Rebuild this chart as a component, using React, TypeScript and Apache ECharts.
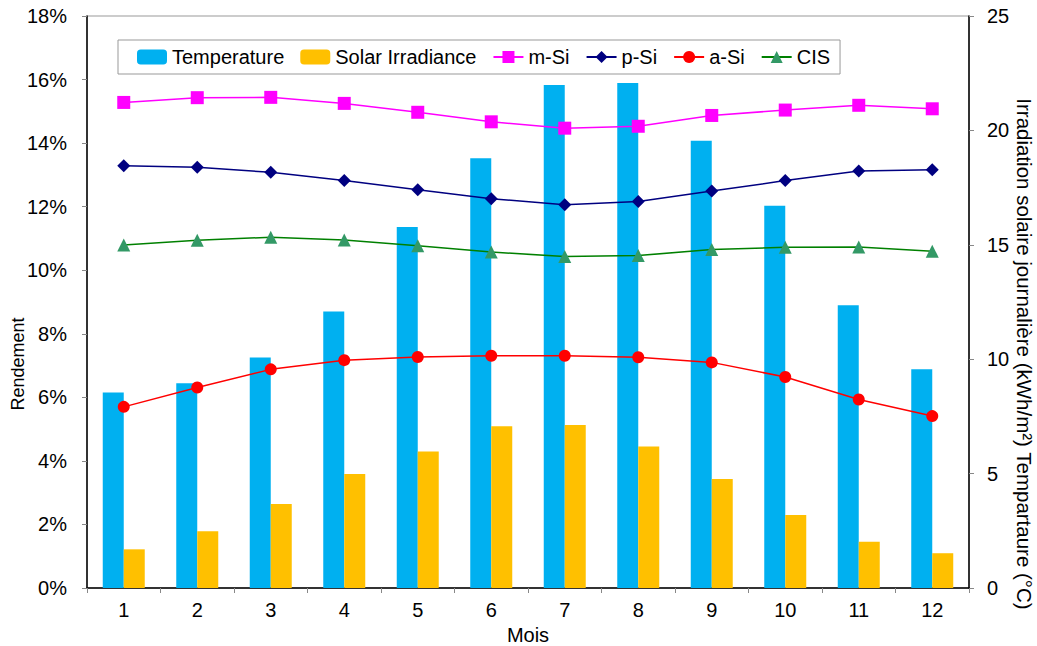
import React, { useEffect, useRef } from "react";
import * as echarts from "echarts";

const months = ["1", "2", "3", "4", "5", "6", "7", "8", "9", "10", "11", "12"];
const temperature = [8.55, 8.95, 10.07, 12.09, 15.78, 18.78, 21.98, 22.07, 19.55, 16.71, 12.36, 9.56];
const solarIrradiance = [1.69, 2.48, 3.67, 4.98, 5.97, 7.07, 7.12, 6.18, 4.76, 3.19, 2.02, 1.52];
const mSi = [15.28, 15.43, 15.44, 15.25, 14.97, 14.67, 14.47, 14.53, 14.87, 15.04, 15.19, 15.08];
const pSi = [13.29, 13.24, 13.08, 12.82, 12.53, 12.25, 12.06, 12.16, 12.49, 12.82, 13.12, 13.16];
const aSi = [5.7, 6.31, 6.88, 7.17, 7.27, 7.31, 7.31, 7.26, 7.1, 6.64, 5.93, 5.41];
const cis = [10.79, 10.94, 11.04, 10.95, 10.77, 10.57, 10.43, 10.46, 10.65, 10.72, 10.73, 10.6];

const leftTitle = "Rendement";
const rightTitle = "Irradiation solaire journalière (kWh/m²) Tempartaure (°C)";
const bottomTitle = "Mois";

const FONT = "'Liberation Sans', Arial, sans-serif";

export default function App() {
  const ref = useRef<HTMLDivElement>(null);

  useEffect(() => {
    if (!ref.current) return;
    const chart = echarts.init(ref.current, undefined, { renderer: "svg" });
    const tickStyle = { show: true, length: 5, lineStyle: { color: "#888", width: 1 } };
    chart.setOption({
      animation: false,
      backgroundColor: "#fff",
      textStyle: { fontFamily: FONT },
      grid: {
        left: 87,
        right: 68,
        top: 16,
        bottom: 58,
        outerBoundsMode: "none",
        containLabel: false,
        show: true,
        borderColor: "#999",
        borderWidth: 1,
      },
      graphic: [
        {
          type: "text",
          x: 18,
          y: 364,
          rotation: Math.PI / 2,
          style: {
            text: leftTitle,
            fontSize: 18,
            fontFamily: FONT,
            fill: "#000",
            align: "center",
            verticalAlign: "middle",
          },
        },
        {
          type: "text",
          x: 1024,
          y: 354,
          rotation: -Math.PI / 2,
          style: {
            text: rightTitle,
            fontSize: 20.5,
            fontFamily: FONT,
            fill: "#000",
            align: "center",
            verticalAlign: "middle",
          },
        },
      ],
      legend: {
        left: 118,
        top: 40,
        padding: [7, 10, 7, 19],
        itemGap: 16,
        itemWidth: 30,
        itemHeight: 15,
        backgroundColor: "#fff",
        borderColor: "#999",
        borderWidth: 1,
        textStyle: { fontSize: 20, color: "#000", fontFamily: FONT },
        data: ["Temperature", "Solar Irradiance", "m-Si", "p-Si", "a-Si", "CIS"],
      },
      xAxis: {
        type: "category",
        data: months,
        boundaryGap: true,
        name: bottomTitle,
        nameLocation: "middle",
        nameGap: 30,
        nameTextStyle: { fontSize: 20, color: "#000", fontFamily: FONT },
        axisLine: { lineStyle: { color: "#000", width: 1.5 } },
        axisTick: { ...tickStyle, alignWithLabel: false },
        axisLabel: { fontSize: 20, color: "#000", margin: 12, fontFamily: FONT },
        splitLine: { show: false },
      },
      yAxis: [
        {
          type: "value",
          min: 0,
          max: 18,
          interval: 2,
          axisLine: { show: true, lineStyle: { color: "#000", width: 1.5 } },
          axisTick: tickStyle,
          axisLabel: { fontSize: 20, color: "#000", margin: 20, formatter: "{value}%", fontFamily: FONT },
          splitLine: { show: false },
        },
        {
          type: "value",
          min: 0,
          max: 25,
          interval: 5,
          position: "right",
          axisLine: { show: true, lineStyle: { color: "#000", width: 1.5 } },
          axisTick: tickStyle,
          axisLabel: { fontSize: 20, color: "#000", margin: 18, fontFamily: FONT },
          splitLine: { show: false },
        },
      ],
      series: [
        {
          name: "Temperature",
          type: "bar",
          yAxisIndex: 1,
          data: temperature,
          barWidth: 21,
          barGap: "0%",
          itemStyle: { color: "#00B0F0" },
        },
        {
          name: "Solar Irradiance",
          type: "bar",
          yAxisIndex: 1,
          data: solarIrradiance,
          barWidth: 21,
          barGap: "0%",
          itemStyle: { color: "#FFC000" },
        },
        {
          name: "m-Si",
          type: "line",
          yAxisIndex: 0,
          data: mSi,
          symbol: "rect",
          symbolSize: 13,
          lineStyle: { color: "#FF00FF", width: 1.5 },
          itemStyle: { color: "#FF00FF" },
        },
        {
          name: "p-Si",
          type: "line",
          yAxisIndex: 0,
          data: pSi,
          symbol: "diamond",
          symbolSize: 13,
          lineStyle: { color: "#000080", width: 1.5 },
          itemStyle: { color: "#000080" },
        },
        {
          name: "a-Si",
          type: "line",
          yAxisIndex: 0,
          data: aSi,
          symbol: "circle",
          symbolSize: 12,
          lineStyle: { color: "#FF0000", width: 1.5 },
          itemStyle: { color: "#FF0000" },
        },
        {
          name: "CIS",
          type: "line",
          yAxisIndex: 0,
          data: cis,
          symbol: "triangle",
          symbolSize: 13,
          lineStyle: { color: "#008000", width: 1.5 },
          itemStyle: { color: "#339966" },
        },
      ],
    });
    return () => chart.dispose();
  }, []);

  return (
    <div
      ref={ref}
      style={{ position: "fixed", left: 0, top: 0, width: 1037, height: 646, background: "#fff" }}
    />
  );
}
